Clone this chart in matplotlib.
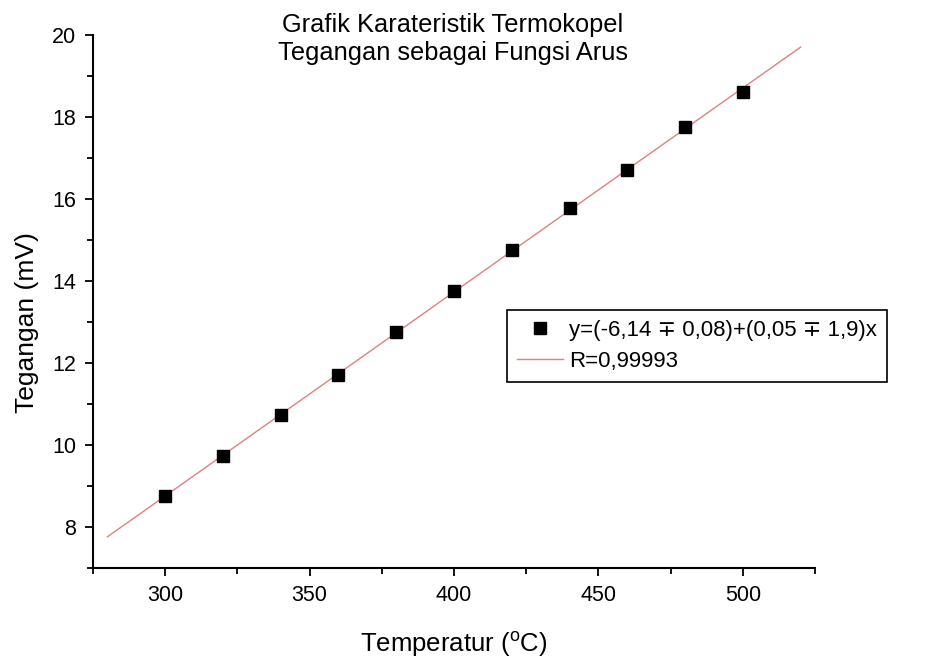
import matplotlib
matplotlib.use("Agg")
import matplotlib.pyplot as plt
from matplotlib.ticker import MultipleLocator
import numpy as np

plt.rcParams['font.family'] = ['Liberation Sans', 'DejaVu Sans']
plt.rcParams['mathtext.fontset'] = 'custom'
plt.rcParams['mathtext.rm'] = 'Liberation Sans'

# data
suhu = np.array([300, 320, 340, 360, 380, 400, 420, 440, 460, 480, 500])
tegangan = np.array([8.76, 9.73, 10.74, 11.70, 12.75, 13.76, 14.76, 15.78, 16.70, 17.76, 18.62])
fit_range = [280, 520]

label_data = "y=(-6,14 \u2213 0,08)+(0,05 \u2213 1,9)x"
label_fit = "R=0,99993"
judul = ["Grafik Karateristik Termokopel", "Tegangan sebagai Fungsi Arus"]

# linear fit
m, c = np.polyfit(suhu, tegangan, 1)
xf = np.linspace(fit_range[0], fit_range[1], 50)

fig = plt.figure(figsize=(9.43, 6.58), dpi=100)
ax = fig.add_axes([93/943, 1-568/658, 722/943, 533/658])

ax.plot(suhu, tegangan, 's', color='black', ms=8, label=label_data, zorder=3)
ax.plot(xf, m*xf + c, '-', color='#e08080', lw=1, label=label_fit)

ax.set_xlim(275, 525)
ax.set_ylim(7, 20)
ax.xaxis.set_major_locator(MultipleLocator(50))
ax.xaxis.set_minor_locator(MultipleLocator(25))
ax.yaxis.set_major_locator(MultipleLocator(2))
ax.yaxis.set_minor_locator(MultipleLocator(1))
ax.set_yticks([8, 10, 12, 14, 16, 18, 20])

for s in ['top', 'right']:
    ax.spines[s].set_visible(False)
for s in ['left', 'bottom']:
    ax.spines[s].set_linewidth(1.5)

ax.tick_params(which='major', direction='out', length=6, width=1.3, labelsize=15.5, pad=6)
ax.tick_params(which='minor', direction='out', length=4, width=1.3)

ax.set_xlabel(r'Temperatur ($^{\mathrm{o}}$C)', fontsize=18.5)
ax.xaxis.set_label_coords(0.5, -0.115)
ax.set_ylabel('Tegangan (mV)', fontsize=19)
ax.yaxis.set_label_coords(-0.075, 0.46)

fig.text(453/943, 1-32/658, judul[0], ha='center', va='baseline', fontsize=18.3)
fig.text(453/943, 1-60/658, judul[1], ha='center', va='baseline', fontsize=18.3)

leg = ax.legend(loc='upper left', bbox_to_anchor=(0.573, 0.484), fontsize=16,
                fancybox=False, framealpha=1, edgecolor='black',
                handlelength=2.1, borderpad=0.45, labelspacing=0.45,
                handletextpad=0.25, borderaxespad=0)
leg.get_frame().set_linewidth(1.2)

fig.savefig('out.png', dpi=100)
